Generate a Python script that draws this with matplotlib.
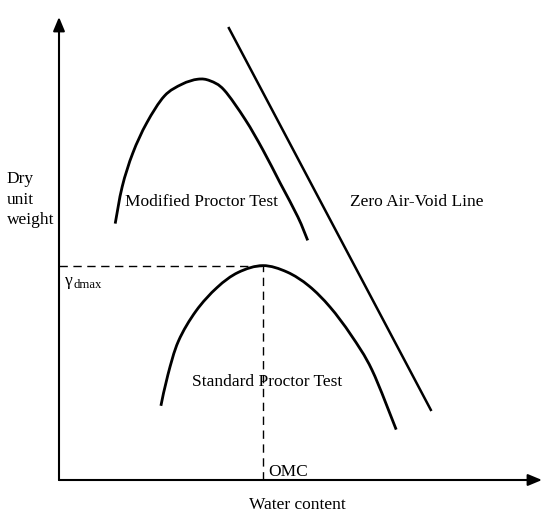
import matplotlib
matplotlib.use("Agg")
import matplotlib.pyplot as plt
from matplotlib.path import Path
from matplotlib.patches import PathPatch

# Schematic data (water content w, dry unit weight g), origin at the axes' corner
mod_w = [56.2, 63.2, 73.8, 87.8, 105.4, 123.0, 138.8, 151.1, 165.1, 186.2, 203.8, 221.3, 238.9, 248.7]
mod_g = [256.4, 293.3, 326.9, 357.2, 384.0, 395.8, 400.8, 399.2, 390.0, 360.5, 330.3, 296.7, 263.0, 239.6]

std_w = [101.9, 108.9, 119.4, 137.0, 158.1, 179.2, 203.8, 228.0, 250.0, 271.0, 292.0, 313.0, 337.2]
std_g = [74.2, 105.2, 138.8, 169.0, 192.5, 207.6, 214.4, 208.0, 194.0, 173.0, 145.0, 110.0, 50.4]

zav_w = [169.3, 270.8, 372.4]
zav_g = [453.0, 261.0, 69.0]

omc = 203.8
gdmax = 214.4
x_max = 483
y_max = 463

fig = plt.figure(figsize=(5.48, 5.24), dpi=100)
ax = fig.add_axes([0, 0, 1, 1])
ax.set_xlim(-59, 489)
ax.set_ylim(-44, 480)
ax.axis("off")

font = "Liberation Serif"
fs = 12.5


def smooth_path(xs, ys):
    """Catmull-Rom curve through the read points, drawn as cubic Bezier segments."""
    pts = list(zip(xs, ys))
    verts = [pts[0]]
    codes = [Path.MOVETO]
    n = len(pts)
    for i in range(n - 1):
        p0 = pts[i - 1] if i > 0 else pts[i]
        p1 = pts[i]
        p2 = pts[i + 1]
        p3 = pts[i + 2] if i + 2 < n else pts[i + 1]
        c1 = (p1[0] + (p2[0] - p0[0]) / 6, p1[1] + (p2[1] - p0[1]) / 6)
        c2 = (p2[0] - (p3[0] - p1[0]) / 6, p2[1] - (p3[1] - p1[1]) / 6)
        verts += [c1, c2, p2]
        codes += [Path.CURVE4] * 3
    return Path(verts, codes)


# axes with arrows
arrow = dict(arrowstyle="-|>,head_length=0.6,head_width=0.25", lw=1.5, color="black",
             shrinkA=0, shrinkB=0, mutation_scale=14)
ax.annotate("", xy=(x_max, 0), xytext=(0, 0), arrowprops=arrow)
ax.annotate("", xy=(0, y_max), xytext=(0, 0), arrowprops=arrow)

lw = 2.0
ax.add_patch(PathPatch(smooth_path(mod_w, mod_g), fill=False, lw=lw, edgecolor="black", capstyle="butt"))
ax.add_patch(PathPatch(smooth_path(std_w, std_g), fill=False, lw=lw, edgecolor="black", capstyle="butt"))
ax.plot(zav_w, zav_g, color="black", lw=1.8, solid_capstyle="butt")

# dashed guide lines
ax.plot([0, omc], [gdmax, gdmax], color="black", lw=1.0, ls=(0, (6, 4)))
ax.plot([omc, omc], [0, gdmax], color="black", lw=1.0, ls=(0, (6, 4)))

# labels
for txt, gy in zip(["Dry", "unit", "weight"], [296.7, 276.0, 256.0]):
    ax.text(-52.3, gy, txt, family=font, fontsize=fs, va="baseline", ha="left")
ax.text(66, 274.5, "Modified Proctor Test", family=font, fontsize=fs, va="baseline", ha="left")
ax.text(291, 274.5, "Zero Air-Void Line", family=font, fontsize=fs, va="baseline", ha="left")
ax.text(133.3, 94.3, "Standard Proctor Test", family=font, fontsize=fs, va="baseline", ha="left")
ax.text(209, 4.4, "OMC", family=font, fontsize=fs, va="baseline", ha="left")
ax.text(190.4, -29, "Water content", family=font, fontsize=fs, va="baseline", ha="left")
ax.text(6, 195, "\u03b3", family=font, fontsize=fs, va="baseline", ha="left")
ax.text(15, 192, "dmax", family=font, fontsize=9.2, va="baseline", ha="left")

fig.savefig("out.png", dpi=100)
